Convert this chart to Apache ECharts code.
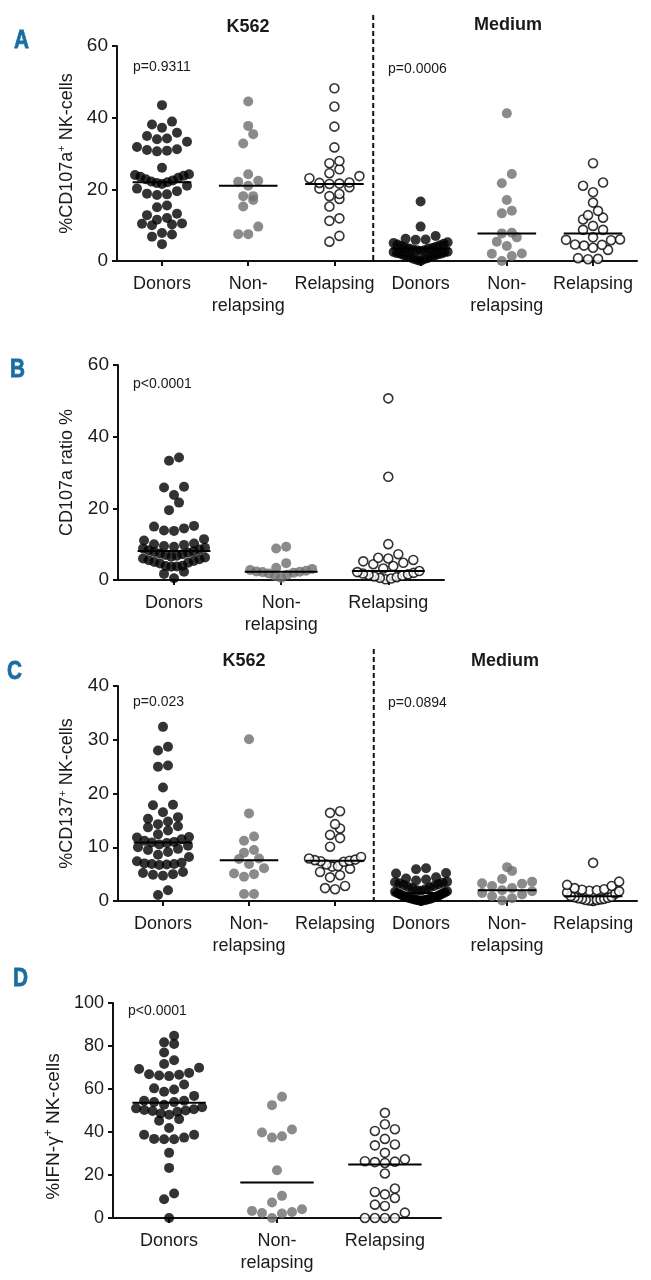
<!DOCTYPE html>
<html><head><meta charset="utf-8">
<script src="https://cdn.jsdelivr.net/npm/echarts@6/dist/echarts.min.js"></script>
<style>html,body{margin:0;padding:0;background:#fff}#c{width:651px;height:1280px}</style>
</head><body><div id="c"></div>
<script>
// ---------------- DATA ----------------
const xLabels6 = ['Donors', 'Non-\nrelapsing', 'Relapsing', 'Donors', 'Non-\nrelapsing', 'Relapsing'];
const xLabels3 = ['Donors', 'Non-\nrelapsing', 'Relapsing'];

// Panel A: %CD107a+ NK-cells (K562 | Medium)
const aK562Donors = [43.5, 38.9, 38.1, 37.2, 35.8, 34.9, 34.2, 34.0, 33.3, 31.8, 31.2, 31.0, 30.8, 30.6, 26.0, 24.2, 23.8, 23.5, 23.2, 24.0, 22.8, 22.5, 22.2, 22.0, 21.8, 21.5, 21.0, 20.2, 19.5, 18.8, 18.6, 18.4, 15.5, 15.0, 13.2, 12.8, 12.0, 11.5, 10.5, 10.2, 10.0, 10.4, 7.8, 7.4, 6.8, 4.7];
const aK562NonRel = [44.5, 37.7, 35.4, 32.8, 24.2, 22.4, 22.1, 21.0, 18.1, 18.1, 17.0, 15.2, 9.6, 7.5, 7.5];
const aK562Rel = [48.2, 43.1, 37.5, 31.7, 27.9, 27.3, 25.6, 24.5, 23.7, 23.1, 21.9, 21.6, 21.5, 21.8, 20.6, 20.2, 18.7, 18.1, 17.3, 15.2, 11.9, 11.2, 7.0, 5.4];
const aMedDonors = [16.6, 9.6, 7.0, 6.2, 6.0, 5.9, 5.2, 5.0, 4.8, 4.6, 4.4, 4.2, 4.0, 3.8, 3.6, 3.5, 3.4, 3.2, 3.0, 3.0, 2.8, 2.6, 2.5, 2.4, 2.2, 2.0, 2.0, 1.8, 1.6, 1.5, 1.4, 1.2, 1.0, 0.8, 0.6, 0.5, 0.3, 0.0];
const aMedNonRel = [41.2, 24.3, 21.7, 17.0, 14.0, 13.3, 7.9, 7.7, 6.6, 5.4, 4.2, 2.1, 2.0, 1.4, 0.0];
const aMedRel = [27.3, 21.9, 21.0, 19.2, 16.3, 14.0, 12.8, 12.1, 11.6, 9.8, 8.7, 8.7, 6.6, 6.0, 5.8, 5.9, 4.6, 4.3, 4.5, 3.7, 3.1, 0.8, 0.5, 0.6];
const aMedians = [22.0, 21.0, 21.5, 3.5, 7.7, 7.7];

// Panel B: CD107a ratio %
const bDonors = [34.2, 33.3, 26.0, 25.8, 23.7, 21.6, 19.5, 15.1, 14.9, 14.4, 13.8, 13.7, 11.4, 11.0, 10.2, 10.0, 9.8, 9.5, 9.3, 9.0, 8.8, 8.5, 8.3, 8.0, 7.8, 7.6, 7.4, 7.2, 7.0, 6.8, 6.5, 6.3, 6.0, 5.8, 5.5, 5.3, 5.0, 4.8, 4.6, 4.0, 3.9, 3.8, 3.7, 2.3, 1.7, 0.5];
const bNonRel = [9.3, 8.8, 4.7, 3.4, 3.1, 2.8, 2.6, 2.4, 2.3, 2.2, 2.0, 1.8, 1.5, 1.1, 0.6];
const bRel = [50.7, 28.8, 10.0, 7.2, 6.2, 6.0, 5.6, 5.2, 4.8, 4.4, 3.9, 3.2, 2.5, 2.2, 2.0, 1.8, 1.6, 1.4, 1.2, 1.0, 0.8, 0.6, 0.4, 0.2];
const bMedians = [8.1, 2.3, 2.5];

// Panel C: %CD137+ NK-cells (K562 | Medium)
const cK562Donors = [32.4, 28.7, 28.0, 25.2, 25.0, 21.1, 17.9, 17.8, 16.5, 15.6, 15.3, 14.8, 14.3, 13.9, 13.7, 13.1, 12.4, 11.9, 11.8, 11.5, 11.2, 11.0, 10.9, 10.8, 10.5, 10.3, 10.0, 9.7, 9.5, 9.1, 8.6, 8.2, 7.4, 7.1, 7.0, 6.9, 6.9, 6.8, 6.7, 5.4, 5.2, 5.0, 4.9, 4.7, 2.0, 1.1];
const cK562NonRel = [30.1, 16.3, 12.0, 11.2, 9.5, 9.0, 7.9, 7.8, 6.9, 6.1, 5.1, 5.0, 4.5, 1.3, 1.3];
const cK562Rel = [16.7, 16.4, 14.3, 13.5, 12.3, 11.7, 10.1, 8.2, 7.9, 7.7, 7.6, 7.5, 7.4, 7.3, 6.8, 6.5, 6.4, 6.0, 5.4, 4.8, 4.4, 2.8, 2.4, 2.2];
const cMedDonors = [6.1, 5.9, 5.2, 5.1, 4.4, 4.2, 4.0, 3.8, 3.6, 3.5, 3.4, 3.3, 3.1, 3.0, 2.8, 2.6, 2.5, 2.4, 2.2, 2.0, 1.9, 1.8, 1.7, 1.6, 1.5, 1.4, 1.3, 1.2, 1.1, 1.0, 0.9, 0.8, 0.8, 0.7, 0.6, 0.5, 0.5, 0.4, 0.4, 0.3, 0.3, 0.2, 0.2, 0.1, 0.1, 0.0];
const cMedNonRel = [6.3, 5.6, 4.1, 3.6, 3.3, 3.2, 2.8, 2.4, 2.0, 1.8, 1.5, 1.2, 0.9, 0.5, 0.1];
const cMedRel = [7.1, 3.6, 3.0, 2.8, 2.4, 2.2, 2.1, 2.0, 1.9, 1.8, 1.6, 1.4, 0.9, 0.8, 0.7, 0.6, 0.5, 0.4, 0.4, 0.3, 0.2, 0.2, 0.1, 0.0];
const cMedians = [10.9, 7.6, 7.5, 1.5, 2.0, 0.9];

// Panel D: %IFN-γ+ NK-cells
const dDonors = [84.8, 81.7, 80.9, 77.0, 73.4, 71.6, 69.9, 69.3, 67.5, 66.9, 66.6, 66.3, 66.0, 62.1, 60.3, 59.8, 58.7, 56.8, 54.5, 54.5, 53.9, 53.9, 52.7, 51.5, 51.0, 50.6, 50.2, 50.0, 49.8, 49.4, 48.6, 48.0, 46.0, 45.2, 41.9, 38.7, 38.7, 37.4, 36.8, 36.6, 36.6, 30.3, 23.3, 11.4, 8.7, 0.0];
const dNonRel = [56.4, 52.5, 41.2, 39.8, 38.0, 37.4, 22.2, 10.3, 7.2, 4.1, 3.3, 2.8, 2.3, 2.1, 0.0];
const dRel = [48.9, 43.6, 41.3, 40.5, 36.8, 34.2, 33.8, 30.3, 27.3, 26.4, 26.2, 26.0, 25.6, 20.7, 13.7, 12.1, 11.0, 9.3, 6.2, 5.6, 2.5, 0.0, 0.0, 0.0, 0.0];
const dMedians = [53.6, 16.5, 24.9];

const yTicksA = [0, 60, 20];
const yTicksB = [0, 60, 20];
const yTicksC = [0, 40, 10];
const yTicksD = [0, 100, 20];

const pValues = ['p=0.9311', 'p=0.0006', 'p<0.0001', 'p=0.023', 'p=0.0894', 'p<0.0001'];
const conditionTitles = ['K562', 'Medium'];
const panelLetters = ['A', 'B', 'C', 'D'];
const yTitles = [
  '{t|%CD107a}{s|+}{t| NK-cells}',
  '{t|CD107a ratio %}',
  '{t|%CD137}{s|+}{t| NK-cells}',
  '{t|%IFN-γ}{s|+}{t| NK-cells}'
];

// ---------------- CHART ----------------
const FONT = '"Liberation Sans", Arial, Helvetica, sans-serif';
const TXT = '#1a1a1a';
const chart = echarts.init(document.getElementById('c'), null, { renderer: 'canvas' });

const grids = [
  { left: 117, top: 46, width: 520, height: 215 },
  { left: 118, top: 365, width: 326, height: 215 },
  { left: 118, top: 686, width: 519, height: 215 },
  { left: 113, top: 1003, width: 328, height: 215 }
];
const xRanges = [[0.478, 6.51], [0.477, 3.52], [0.477, 6.51], [0.48, 3.52]];

function xAxisFor(i, labels) {
  const vals = labels.map((_, k) => k + 1);
  return {
    gridIndex: i, type: 'value', min: xRanges[i][0], max: xRanges[i][1],
    axisLine: { show: true, onZero: false, lineStyle: { color: '#111', width: 2 } },
    axisTick: { show: true, customValues: vals, length: 5, lineStyle: { color: '#111', width: 2 } },
    axisLabel: { show: true, customValues: vals, formatter: v => labels[Math.round(v) - 1] || '',
      fontSize: 18, fontFamily: FONT, color: TXT, margin: 12, lineHeight: 22 },
    splitLine: { show: false }
  };
}
function yAxisFor(i, ticks, name, nameSize, gap, pad) {
  return {
    gridIndex: i, type: 'value', min: ticks[0], max: ticks[1], interval: ticks[2],
    axisLine: { show: true, onZero: false, lineStyle: { color: '#111', width: 2 } },
    axisTick: { show: true, length: 5, lineStyle: { color: '#111', width: 2 } },
    axisLabel: { fontSize: i === 3 ? 18 : 19, fontFamily: FONT, color: TXT, margin: 9 },
    splitLine: { show: false },
    name: name, nameLocation: 'middle', nameRotate: 90, nameGap: gap,
    nameTextStyle: {
      fontSize: nameSize, fontFamily: FONT, color: TXT, padding: pad || 0,
      rich: {
        t: { fontSize: nameSize, fontFamily: FONT, color: TXT, lineHeight: nameSize + 2 },
        s: { fontSize: Math.round(nameSize * 0.62), fontFamily: FONT, color: TXT, verticalAlign: 'top', lineHeight: Math.round(nameSize * 0.62) }
      }
    }
  };
}

chart.setOption({
  animation: false,
  backgroundColor: '#fff',
  grid: grids,
  xAxis: [xAxisFor(0, xLabels6), xAxisFor(1, xLabels3), xAxisFor(2, xLabels6), xAxisFor(3, xLabels3)],
  yAxis: [
    yAxisFor(0, yTicksA, yTitles[0], 18, 40),
    yAxisFor(1, yTicksB, yTitles[1], 18, 41),
    yAxisFor(2, yTicksC, yTitles[2], 18, 41),
    yAxisFor(3, yTicksD, yTitles[3], 19, 37, [0, 32, 0, 0])
  ],
  series: []
});

// Prism-like row layout of dots, computed through the chart's own scales
const DOT = 10;
function rowLayout(g, xc, values, halfW) {
  const p0 = chart.convertToPixel({ gridIndex: g }, [xc, 0]);
  const p1 = chart.convertToPixel({ gridIndex: g }, [xc + 1, 0]);
  const pxPerX = p1[0] - p0[0];
  const pts = values.map(v => ({ v: v, py: chart.convertToPixel({ gridIndex: g }, [xc, v])[1] }));
  pts.sort((a, b) => b.py - a.py);
  const rows = []; let cur = null;
  pts.forEach(p => {
    if (!cur || cur.start - p.py >= DOT) { cur = { start: p.py, items: [] }; rows.push(cur); }
    cur.items.push(p);
  });
  const out = [];
  rows.forEach(r => {
    const n = r.items.length;
    const s = n > 1 ? Math.min(DOT, 2 * halfW / (n - 1)) : 0;
    const slots = [];
    for (let k = 0; k < n; k++) slots.push((k - (n - 1) / 2) * s);
    slots.sort((a, b) => (Math.abs(a) - Math.abs(b)) || (a - b));
    r.items.sort((a, b) => a.v - b.v);
    r.items.forEach((p, k) => out.push([xc + slots[k] / pxPerX, p.v]));
  });
  return out;
}

const styleFilled = { color: '#000' };
const styleGray = { color: '#6e6e6e' };
const styleOpen = { color: '#fff', borderColor: '#000', borderWidth: 1.6 };
const groupStyles = [styleFilled, styleGray, styleOpen];

const panels = [
  { g: 0, groups: [aK562Donors, aK562NonRel, aK562Rel, aMedDonors, aMedNonRel, aMedRel], med: aMedians, halfW: 27 },
  { g: 1, groups: [bDonors, bNonRel, bRel], med: bMedians, halfW: 31 },
  { g: 2, groups: [cK562Donors, cK562NonRel, cK562Rel, cMedDonors, cMedNonRel, cMedRel], med: cMedians, halfW: 26 },
  { g: 3, groups: [dDonors, dNonRel, dRel], med: dMedians, halfW: 33 }
];

const series = [];
panels.forEach(P => {
  P.groups.forEach((vals, k) => {
    const st = groupStyles[k % 3];
    series.push({
      type: 'scatter', xAxisIndex: P.g, yAxisIndex: P.g, silent: true,
      symbol: 'circle', symbolSize: st === styleOpen ? 9 : DOT,
      itemStyle: st, z: 2,
      data: rowLayout(P.g, k + 1, vals, P.halfW)
    });
  });
  P.med.forEach((m, k) => {
    series.push({
      type: 'line', xAxisIndex: P.g, yAxisIndex: P.g, silent: true, symbol: 'none', z: 5,
      lineStyle: { color: '#000', width: 2 },
      data: [[k + 1 - 0.34, m], [k + 1 + 0.34, m]]
    });
  });
});

// separators between K562 and Medium (panels A and C)
function sepLine(g, topY) {
  const bottom = chart.convertToPixel({ gridIndex: g }, [3.45, 0]);
  return { type: 'line', silent: true, z: 1,
    shape: { x1: bottom[0], y1: topY, x2: bottom[0], y2: bottom[1] },
    style: { stroke: '#111', lineWidth: 2, lineDash: [5, 3] } };
}
function txt(x, y, text, font, fill, align) {
  return { type: 'text', x: x, y: y, silent: true, z: 10,
    style: { text: text, font: font, fill: fill || TXT, align: align || 'left', verticalAlign: 'middle',
      textAlign: align || 'left', textVerticalAlign: 'middle' } };
}
function letter(x, y, text) {
  const el = txt(x, y, text, 'bold 26px "Liberation Sans", sans-serif', '#1a6da1');
  el.style.stroke = '#1a6da1';
  el.style.lineWidth = 0.8;
  el.scaleX = 0.8;
  return el;
}
const TITLE_FONT = 'bold 18px ' + FONT;
const P_FONT = '14px ' + FONT;

chart.setOption({
  series: series,
  graphic: [
    sepLine(0, 15),
    sepLine(2, 649),
    letter(14, 41, panelLetters[0]),
    letter(10, 370, panelLetters[1]),
    letter(7, 672, panelLetters[2]),
    letter(13, 979, panelLetters[3]),
    txt(248, 27, conditionTitles[0], TITLE_FONT, TXT, 'center'),
    txt(508, 25, conditionTitles[1], TITLE_FONT, TXT, 'center'),
    txt(244, 661, conditionTitles[0], TITLE_FONT, TXT, 'center'),
    txt(505, 661, conditionTitles[1], TITLE_FONT, TXT, 'center'),
    txt(133, 67, pValues[0], P_FONT),
    txt(388, 69, pValues[1], P_FONT),
    txt(133, 384, pValues[2], P_FONT),
    txt(133, 702, pValues[3], P_FONT),
    txt(388, 703, pValues[4], P_FONT),
    txt(128, 1011, pValues[5], P_FONT)
  ]
});
</script></body></html>
